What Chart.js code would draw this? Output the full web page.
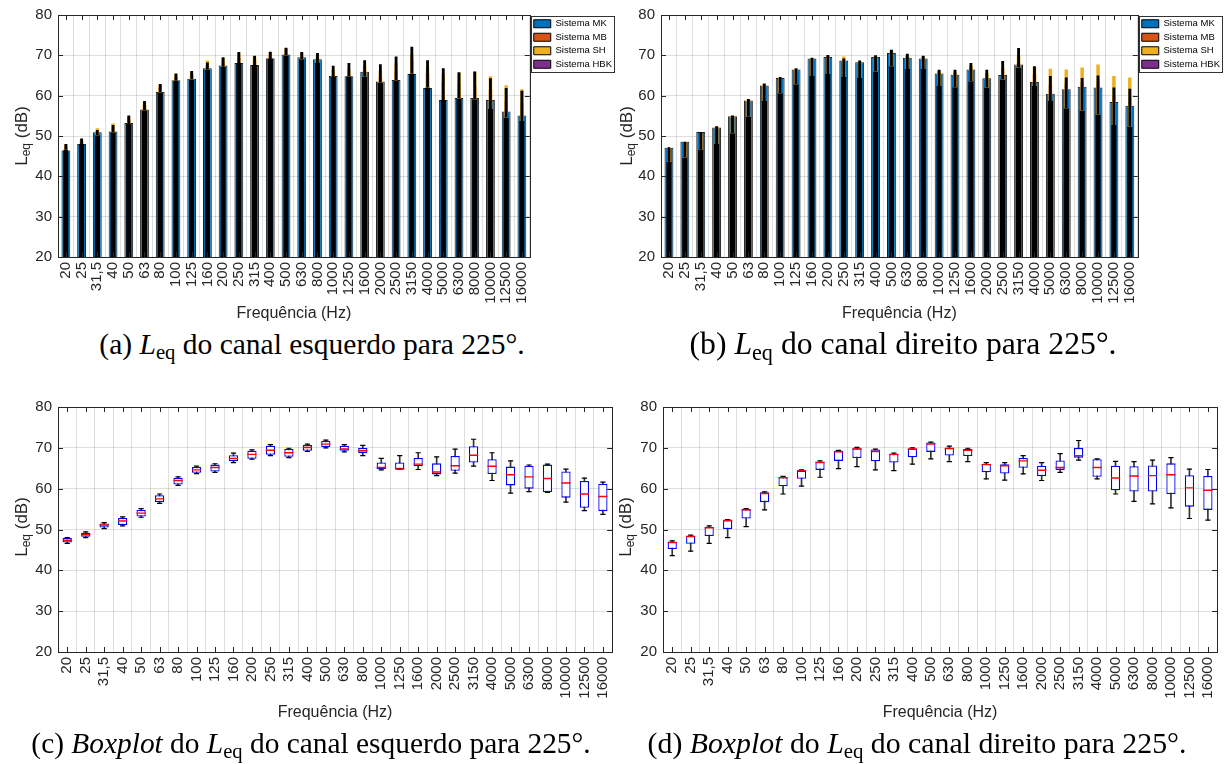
<!DOCTYPE html>
<html lang="pt">
<head>
<meta charset="utf-8">
<title>Leq para 225°</title>
<script src="https://cdn.jsdelivr.net/npm/chart.js@4.4.1/dist/chart.umd.min.js"></script>
<style>
  body { margin: 0; background: #fff; width: 1227px; height: 764px; position: relative; overflow: hidden; font-family: "Liberation Sans", Arial, sans-serif; }
  canvas { position: absolute; }
  .ylab { position: absolute; transform: translate(-50%, -50%) rotate(-90deg); font-size: 17px; color: #262626; white-space: nowrap; }
  .ylab sub { font-size: 12px; vertical-align: -3px; }
  .cap { position: absolute; transform: translate(-50%, -50%); font-family: "Liberation Serif", "DejaVu Serif", serif; font-size: 22px; white-space: nowrap; color: #000; }
  .cap sub { font-size: 0.7em; vertical-align: -0.25em; }
</style>
</head>
<body>
<canvas id="cA" width="622" height="325" style="left:0;top:0"></canvas>
<canvas id="cB" width="625" height="325" style="left:605px;top:0"></canvas>
<canvas id="cC" width="626" height="336" style="left:0;top:392px"></canvas>
<canvas id="cD" width="626" height="336" style="left:605px;top:392px"></canvas>

<div class="ylab" style="left:22px;top:136px">L<sub>eq</sub> (dB)</div>
<div class="ylab" style="left:627px;top:136px">L<sub>eq</sub> (dB)</div>
<div class="ylab" style="left:22px;top:527px">L<sub>eq</sub> (dB)</div>
<div class="ylab" style="left:626px;top:527px">L<sub>eq</sub> (dB)</div>

<div class="cap" data-w="425" style="left:312px;top:346px">(a) <i>L</i><sub>eq</sub> do canal esquerdo para 225°.</div>
<div class="cap" data-w="427" style="left:903px;top:346px">(b) <i>L</i><sub>eq</sub> do canal direito para 225°.</div>
<div class="cap" data-w="560" style="left:311px;top:745px">(c) <i>Boxplot</i> do <i>L</i><sub>eq</sub> do canal esquerdo para 225°.</div>
<div class="cap" data-w="540" style="left:917px;top:745px">(d) <i>Boxplot</i> do <i>L</i><sub>eq</sub> do canal direito para 225°.</div>

<script>
// bandas de terço de oitava
var freqs = ['20','25','31,5','40','50','63','80','100','125','160','200','250','315','400','500',
             '630','800','1000','1250','1600','2000','2500','3150','4000','5000','6300','8000','10000','12500','16000'];
var yTicks = [20, 30, 40, 50, 60, 70, 80];

// (a) canal esquerdo - barras por sistema
var mkLeft  = [46.4,48.0,50.9,51.1,53.2,56.6,60.9,63.8,64.2,66.8,67.5,68.1,67.6,69.3,70.2,69.5,69.0,64.9,64.8,65.9,63.5,63.9,65.4,61.9,58.9,59.4,59.4,58.9,56.1,55.1];
var mbLeft  = [47.3,48.7,51.1,52.1,54.0,57.5,62.0,64.6,65.2,67.4,68.4,69.4,68.8,70.1,70.9,69.7,69.3,65.2,64.8,66.0,64.6,66.2,68.7,65.5,63.4,62.9,62.5,61.4,58.7,58.1];
var shLeft  = [47.9,49.2,51.9,53.1,54.8,58.4,62.7,65.3,65.9,68.7,69.3,70.5,69.7,70.7,71.7,70.5,70.0,66.4,66.4,67.5,66.2,68.0,70.4,67.2,65.4,65.6,65.9,64.8,62.6,61.6];
var hbkLeft = [46.6,48.0,50.2,50.9,53.0,56.4,60.8,63.7,64.0,66.4,67.2,68.1,67.6,69.1,70.0,69.0,68.1,64.6,64.8,64.7,63.2,63.8,65.5,62.0,58.9,59.3,59.1,56.7,54.6,53.7];
var errTopLeft = [48.0,49.4,51.5,52.7,55.1,58.7,62.9,65.5,66.1,68.2,69.5,70.8,69.9,70.9,71.9,70.8,70.6,67.4,68.1,68.8,67.8,69.7,72.1,68.8,66.8,65.8,66.0,64.3,61.9,61.2];

// (b) canal direito - barras por sistema
var mkRight  = [47.1,48.6,51.0,52.1,54.9,58.8,62.5,64.4,66.5,69.2,69.6,68.7,68.3,69.6,70.6,69.4,69.2,65.5,65.2,66.5,64.3,65.1,67.7,63.4,60.5,61.6,62.2,62.0,58.4,57.5];
var mbRight  = [46.8,48.3,50.4,52.2,54.8,58.8,62.7,64.4,66.4,69.0,69.7,69.1,68.4,69.7,70.9,69.8,69.4,65.9,65.6,66.8,64.5,65.2,68.1,65.2,62.6,63.1,63.2,63.4,60.2,59.6];
var shRight  = [47.0,48.5,50.7,52.3,55.0,59.1,62.8,64.4,66.6,69.3,69.9,69.7,68.5,69.8,71.3,70.1,69.7,66.1,66.0,67.5,65.6,66.9,70.0,67.2,66.7,66.5,67.0,67.7,64.9,64.5];
var hbkRight = [43.6,44.7,46.6,48.0,50.7,54.8,58.7,60.6,62.8,64.9,65.4,64.6,64.4,66.0,67.3,66.6,66.6,62.4,62.1,63.6,62.0,64.0,67.0,62.4,58.7,56.9,56.3,55.3,52.7,52.3];
var errTopRight = [47.2,48.6,50.9,52.4,55.1,59.2,63.0,64.6,66.8,69.4,70.1,69.2,68.7,70.0,71.4,70.4,69.9,66.4,66.4,68.1,66.4,68.6,71.8,67.3,64.9,64.5,64.4,65.0,62.0,61.7];

// (c) boxplot canal esquerdo
var boxHiL  = [48.0,49.4,51.7,53.1,55.1,58.7,62.9,65.5,66.1,68.7,69.5,70.8,69.9,70.9,71.9,70.8,70.6,67.4,68.1,68.8,67.8,69.7,72.1,68.8,66.8,65.8,66.0,64.8,62.6,61.6];
var boxQ3L  = [47.9,49.2,51.5,52.8,54.8,58.4,62.7,65.3,65.9,68.2,69.3,70.5,69.7,70.7,71.7,70.5,70.0,66.4,66.4,67.5,66.2,68.0,70.4,67.2,65.4,65.6,65.9,64.2,61.9,61.2];
var boxMedL = [47.3,48.7,51.1,52.1,54.0,57.5,62.0,64.6,65.2,67.4,68.4,69.4,68.8,70.1,70.9,69.7,69.3,65.2,64.8,66.0,64.1,65.6,68.2,65.5,63.4,62.9,62.5,61.4,58.7,58.1];
var boxQ1L  = [46.8,48.2,50.5,51.1,53.2,56.7,61.0,63.9,64.2,66.7,67.3,68.3,67.8,69.3,70.2,69.3,68.7,64.8,64.8,65.5,63.5,64.4,66.4,63.6,60.8,60.0,59.2,57.8,55.3,54.5];
var boxLoL  = [46.6,48.0,50.2,50.9,53.0,56.4,60.8,63.7,64.0,66.4,67.2,68.1,67.6,69.1,70.0,69.0,68.1,64.6,64.8,64.7,63.2,63.8,65.5,62.0,58.9,59.3,59.1,56.7,54.6,53.7];

// (d) boxplot canal direito
var boxHiR  = [47.2,48.6,50.9,52.4,55.1,59.2,63.0,64.6,66.8,69.4,70.1,69.7,68.7,70.0,71.4,70.4,69.9,66.4,66.4,68.1,66.4,68.6,71.8,67.3,66.7,66.6,67.0,67.6,64.8,64.7];
var boxQ3R  = [47.0,48.5,50.7,52.3,55.0,59.1,62.8,64.4,66.6,69.3,69.9,69.6,68.5,69.8,71.3,70.1,69.7,66.1,66.0,67.5,65.6,66.9,70.0,67.2,65.6,65.5,65.7,66.2,63.3,63.1];
var boxMedR = [46.8,48.3,50.4,52.2,54.8,58.8,62.7,64.4,66.4,69.0,69.7,69.1,68.4,69.7,70.9,69.8,69.4,65.9,65.6,66.8,64.5,65.2,68.1,65.2,62.6,63.1,63.2,63.4,60.2,59.6];
var boxQ1R  = [45.2,46.5,48.4,50.1,52.7,56.7,60.6,62.4,64.6,66.8,67.5,66.7,66.4,67.7,69.0,68.1,68.0,64.0,63.7,65.1,63.1,64.6,67.6,62.9,59.6,59.3,59.3,58.7,55.6,54.8];
var boxLoR  = [43.6,44.7,46.6,48.0,50.7,54.8,58.7,60.6,62.8,64.9,65.4,64.6,64.4,66.0,67.3,66.6,66.6,62.4,62.1,63.6,62.0,64.0,67.0,62.4,58.7,56.9,56.3,55.3,52.7,52.3];

Chart.defaults.font.family = '"Liberation Sans", Arial, sans-serif';
Chart.defaults.color = '#262626';

// moldura estilo MATLAB: caixa + ticks para dentro + borda da legenda
var frame = {
  id: 'frame',
  afterDraw: function (chart) {
    var ctx = chart.ctx, a = chart.chartArea, x = chart.scales.x, y = chart.scales.y;
    ctx.save();
    ctx.strokeStyle = '#262626';
    ctx.lineWidth = 1;
    ctx.beginPath();
    x.ticks.forEach(function (t, i) {
      var px = Math.round(x.getPixelForTick(i)) + 0.5;
      ctx.moveTo(px, a.bottom); ctx.lineTo(px, a.bottom - 5);
      ctx.moveTo(px, a.top); ctx.lineTo(px, a.top + 5);
    });
    y.ticks.forEach(function (t, i) {
      var py = Math.round(y.getPixelForTick(i)) + 0.5;
      ctx.moveTo(a.left, py); ctx.lineTo(a.left + 5, py);
      ctx.moveTo(a.right, py); ctx.lineTo(a.right - 5, py);
    });
    ctx.stroke();
    ctx.strokeRect(Math.round(a.left) + 0.5, Math.round(a.top) + 0.5, Math.round(a.right - a.left), Math.round(a.bottom - a.top));
    var lg = chart.legend;
    if (lg && lg.options.display && lg.legendHitBoxes.length) {
      var hb = lg.legendHitBoxes;
      var l = Math.min.apply(null, hb.map(function (h) { return h.left; })) - 3;
      var r = Math.max.apply(null, hb.map(function (h) { return h.left + h.width; })) + 2;
      var t = Math.min.apply(null, hb.map(function (h) { return h.top; })) - 3;
      var b = Math.max.apply(null, hb.map(function (h) { return h.top + h.height; })) + 3;
      ctx.strokeStyle = '#333';
      ctx.strokeRect(Math.round(l) + 0.5, Math.round(t) + 0.5, Math.round(r - l), Math.round(b - t));
    }
    ctx.restore();
  }
};

function axes(yWidth, xHeight, titlePad) {
  return {
    x: {
      grid: { color: 'rgba(0,0,0,0.13)', drawTicks: false },
      border: { display: false },
      ticks: { autoSkip: false, maxRotation: 90, minRotation: 90, padding: 5, font: { size: 15 } },
      title: { display: true, text: 'Frequência (Hz)', font: { size: 16 }, padding: { top: 0, bottom: titlePad } },
      afterFit: function (s) { s.height = xHeight; }
    },
    y: {
      min: 20, max: 80,
      grid: { color: 'rgba(0,0,0,0.13)', drawTicks: false },
      border: { display: false },
      afterBuildTicks: function (s) { s.ticks = yTicks.map(function (v) { return { value: v }; }); },
      ticks: { padding: 6, font: { size: 15 } },
      afterFit: function (s) { s.width = yWidth; }
    }
  };
}

function barChart(id, mk, mb, sh, hbk, errTop, yWidth) {
  var errBars = hbk.map(function (v, i) { return [v, errTop[i]]; });
  return new Chart(document.getElementById(id), {
    type: 'bar',
    data: {
      labels: freqs,
      datasets: [
        { label: 'Sistema MK', data: mk, backgroundColor: '#0072BD', borderColor: '#1e1e1e', borderWidth: 1, borderSkipped: false, barPercentage: 0.56, order: 5 },
        { label: 'Sistema MB', data: mb, backgroundColor: '#D95319', borderWidth: 0, barPercentage: 0.22, order: 4 },
        { label: 'Sistema SH', data: sh, backgroundColor: '#EDB120', borderWidth: 0, barPercentage: 0.22, order: 3 },
        { label: 'Sistema HBK', data: hbk, backgroundColor: '#7E2F8E', borderColor: '#000', borderWidth: 3, borderSkipped: false, barPercentage: 0.34, order: 2 },
        { label: 'err', data: errBars, backgroundColor: '#000', borderWidth: 0, barPercentage: 0.18, order: 1 }
      ]
    },
    options: {
      responsive: false, animation: false, events: [],
      layout: { padding: { top: 15, left: 0, right: 0, bottom: 0 } },
      datasets: { bar: { grouped: false, categoryPercentage: 1 } },
      scales: axes(yWidth, 68, 2),
      plugins: {
        tooltip: { enabled: false },
        legend: {
          position: 'right', align: 'start',
          labels: {
            boxWidth: 17, boxHeight: 8, padding: 4, color: '#000', font: { size: 9.5 },
            sort: function (a, b) { return a.datasetIndex - b.datasetIndex; },
            generateLabels: function (chart) {
              return Chart.defaults.plugins.legend.labels.generateLabels(chart)
                .filter(function (l) { return l.text !== 'err'; })
                .map(function (l) { l.lineWidth = 1; l.strokeStyle = '#000'; return l; });
            }
          }
        }
      }
    },
    plugins: [frame]
  });
}

function boxChart(id, lo, q1, med, q3, hi, yWidth, padRight) {
  var whisk = lo.map(function (v, i) { return [v, hi[i]]; });
  var boxes = q1.map(function (v, i) { return [v, q3[i]]; });
  return new Chart(document.getElementById(id), {
    type: 'bar',
    data: {
      labels: freqs,
      datasets: [
        { label: 'whisker', data: whisk, backgroundColor: '#333', borderWidth: 0, barThickness: 1, order: 5 },
        { label: 'box', data: boxes, backgroundColor: '#fff', borderColor: '#0000ff', borderWidth: 1.3, borderSkipped: false, barPercentage: 0.5, order: 4 },
        { type: 'line', label: 'lo', data: lo, showLine: false, pointStyle: 'line', pointRadius: 2.6, borderColor: '#000', borderWidth: 1.2, order: 3 },
        { type: 'line', label: 'hi', data: hi, showLine: false, pointStyle: 'line', pointRadius: 2.6, borderColor: '#000', borderWidth: 1.2, order: 2 },
        { type: 'line', label: 'mediana', data: med, showLine: false, pointStyle: 'line', pointRadius: 4.6, borderColor: '#ff0000', borderWidth: 1.4, order: 1 }
      ]
    },
    options: {
      responsive: false, animation: false, events: [],
      layout: { padding: { top: 10, left: 0, right: padRight, bottom: 0 } },
      datasets: { bar: { grouped: false, categoryPercentage: 1 } },
      scales: axes(yWidth, 76, 6),
      plugins: { legend: { display: false }, tooltip: { enabled: false } }
    },
    plugins: [frame]
  });
}

barChart('cA', mkLeft, mbLeft, shLeft, hbkLeft, errTopLeft, 58);
barChart('cB', mkRight, mbRight, shRight, hbkRight, errTopRight, 56);
boxChart('cC', boxLoL, boxQ1L, boxMedL, boxQ3L, boxHiL, 58, 1);
boxChart('cD', boxLoR, boxQ1R, boxMedR, boxQ3R, boxHiR, 58, 0);

// ajusta o tamanho das legendas (captions) à largura medida na figura
document.querySelectorAll('.cap').forEach(function (el) {
  var target = +el.dataset.w;
  var fs = 22 * target / el.offsetWidth;
  el.style.fontSize = fs.toFixed(1) + 'px';
});
</script>
</body>
</html>
